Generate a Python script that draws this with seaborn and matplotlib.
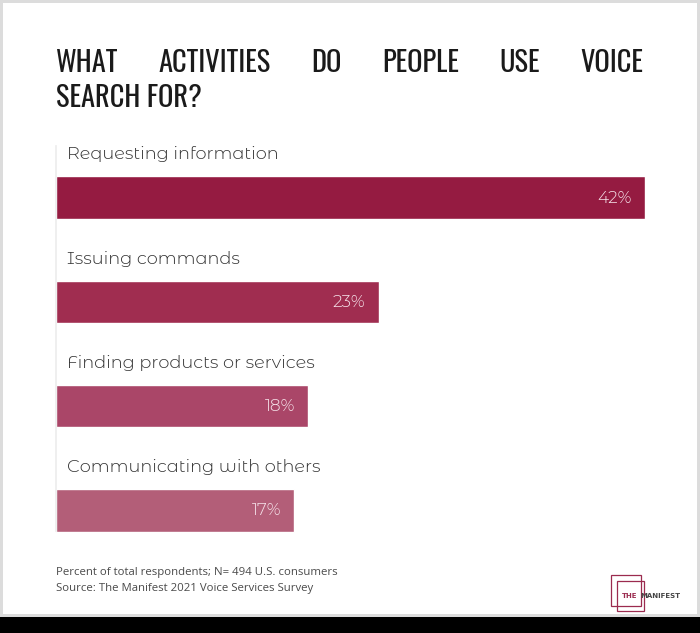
import matplotlib
matplotlib.use("Agg")
import matplotlib.pyplot as plt
import seaborn as sns
import pandas as pd
from matplotlib.patches import Rectangle

categories = ["Requesting information", "Issuing commands",
              "Finding products or services", "Communicating with others"]
values = [42, 23, 18, 17]
value_labels = ["42%", "23%", "18%", "17%"]
colors = ["#951b41", "#a02d50", "#aa4668", "#b35e78"]
title_line1 = ["WHAT", "ACTIVITIES", "DO", "PEOPLE", "USE", "VOICE"]
title_line2 = "SEARCH FOR?"
footnotes = ["Percent of total respondents; N= 494 U.S. consumers",
             "Source: The Manifest 2021 Voice Services Survey"]

sns.set_theme(style="white")
plt.rcParams['font.family'] = ['Montserrat Alternates', 'DejaVu Sans']
plt.rcParams['font.weight'] = 300

W, H = 700, 633
fig = plt.figure(figsize=(7, 6.33), dpi=100)
fig.patch.set_facecolor("black")

def fx(x):
    return x / W

def fy(y):
    return 1 - y / H

# white card with grey border
fig.patches.append(Rectangle((0, fy(617)), 1, 1 - fy(617), transform=fig.transFigure,
                             facecolor="#dcdcdc", edgecolor="none", zorder=-2))
fig.patches.append(Rectangle((fx(3), fy(614)), fx(694), fy(3) - fy(614), transform=fig.transFigure,
                             facecolor="white", edgecolor="none", zorder=-1))

# axes
ax_left, ax_right = 56, 645
ax_top, ax_bottom = 145.5, 562.5
ax = fig.add_axes([fx(ax_left), fy(ax_bottom), fx(ax_right - ax_left), fy(ax_top) - fy(ax_bottom)])
ax.set_facecolor("none")

df = pd.DataFrame({"category": categories, "value": values})
sns.barplot(data=df, y="category", x="value", hue="category", palette=colors,
            orient="h", width=0.41, legend=False, ax=ax, saturation=1)
ax.set_xlim(0, 42)
ax.set_ylim(3.5, -0.5)
ax.set_xlabel("")
ax.set_ylabel("")
ax.set_xticks([])
ax.set_yticks([])
for s in ["top", "right", "bottom"]:
    ax.spines[s].set_visible(False)
ax.spines["left"].set_color("#ececec")
ax.spines["left"].set_linewidth(1.2)
ax.spines["left"].set_bounds(-0.5, 3.2)

for i, (cat, v, lab) in enumerate(zip(categories, values, value_labels)):
    ax.annotate(cat, xy=(0, i - 0.415), xytext=(11, 0), textcoords="offset pixels",
                ha="left", va="center", fontsize=12.8, color="#333333", fontweight=300)
    ax.annotate(lab, xy=(v, i), xytext=(-13, 0), textcoords="offset pixels",
                ha="right", va="center", fontsize=12.2, color="#f6e3ea", fontweight=300)

# title, first line justified between 56 and 643 px
title_kw = dict(fontsize=20.5, color="#1a1a1a", family=["Oswald", "DejaVu Sans"],
                fontweight="normal", va="center", ha="left")
renderer = fig.canvas.get_renderer()
texts = [fig.text(0, fy(63), w, **title_kw) for w in title_line1]
widths = [t.get_window_extent(renderer).width for t in texts]
gap = (643 - 56 - sum(widths)) / (len(texts) - 1)
x = 56
for t, w in zip(texts, widths):
    t.set_x(fx(x))
    x += w + gap
fig.text(fx(56), fy(98), title_line2, **title_kw)

# footnotes
foot_kw = dict(fontsize=8.2, color="#4a4a4a", va="center", fontweight="normal",
               family=["Open Sans", "DejaVu Sans"])
fig.text(fx(56), fy(573), footnotes[0], **foot_kw)
fig.text(fx(56), fy(588), footnotes[1], **foot_kw)

# logo
fig.patches.append(Rectangle((fx(611), fy(606)), fx(30), fy(575) - fy(606), transform=fig.transFigure,
                             facecolor="none", edgecolor="#9b2b4f", linewidth=0.9))
fig.patches.append(Rectangle((fx(617), fy(611)), fx(27), fy(581) - fy(611), transform=fig.transFigure,
                             facecolor="none", edgecolor="#9b2b4f", linewidth=0.9))
fig.text(fx(622), fy(596), "THE", fontsize=5, color="#9b2b4f", fontweight="bold", va="center",
         family=["DejaVu Sans"])
fig.text(fx(640), fy(596), "MANIFEST", fontsize=5, color="#444444", fontweight="bold", va="center",
         family=["DejaVu Sans"])

fig.savefig("out.png", dpi=100, facecolor=fig.get_facecolor())
